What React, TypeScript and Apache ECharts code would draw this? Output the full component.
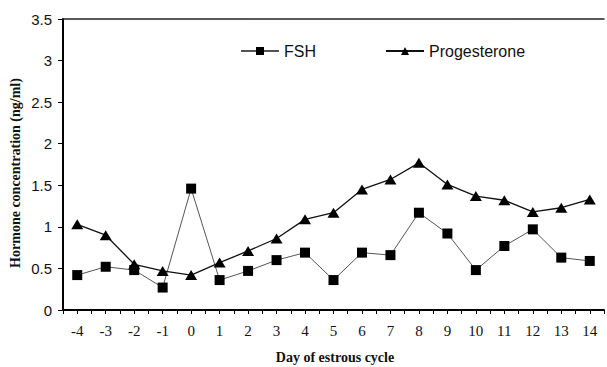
import React, { useEffect, useRef } from "react";
import * as echarts from "echarts";

const days = [-4, -3, -2, -1, 0, 1, 2, 3, 4, 5, 6, 7, 8, 9, 10, 11, 12, 13, 14];
const fsh = [0.42, 0.52, 0.48, 0.27, 1.46, 0.36, 0.47, 0.6, 0.69, 0.36, 0.69, 0.66, 1.17, 0.92, 0.48, 0.77, 0.97, 0.63, 0.59];
const progesterone = [1.03, 0.9, 0.55, 0.47, 0.42, 0.57, 0.71, 0.86, 1.09, 1.17, 1.45, 1.57, 1.77, 1.51, 1.37, 1.32, 1.18, 1.23, 1.33];
const xTitle = "Day of estrous cycle";
const yTitle = "Hormone concentration (ng/ml)";

export default function App() {
  const ref = useRef<HTMLDivElement>(null);
  useEffect(() => {
    document.body.style.margin = "0";
    const chart = echarts.init(ref.current!, null, { renderer: "svg" });
    const sans = "'Liberation Sans', Arial, sans-serif";
    const serif = "'Liberation Serif', 'Times New Roman', serif";
    chart.setOption({
      animation: false,
      backgroundColor: "#fff",
      grid: {
        left: 63,
        top: 19,
        width: 546,
        height: 291,
      },
      legend: {
        left: 240,
        top: 43,
        padding: 0,
        itemWidth: 38,
        itemHeight: 10,
        itemGap: 69,
        textStyle: { fontFamily: sans, fontSize: 16, color: "#111" },
        data: ["FSH", "Progesterone"],
      },
      xAxis: [
        {
          type: "value",
          min: -4.5,
          max: 14.5,
          interval: 0.5,
          splitLine: { show: false },
          axisLine: { onZero: false, lineStyle: { color: "#000", width: 2 } },
          axisTick: { length: 4, lineStyle: { color: "#000", width: 1 } },
          axisLabel: {
            margin: 13,
            fontFamily: serif,
            fontSize: 15,
            color: "#111",
            showMinLabel: true,
            showMaxLabel: true,
            formatter: (v: number) => (Number.isInteger(v) ? String(v) : ""),
          },
        },
        {
          type: "value",
          position: "top",
          min: -4.5,
          max: 14.5,
          interval: 0.5,
          splitLine: { show: false },
          axisLine: { onZero: false, lineStyle: { color: "#222", width: 1.5 } },
          axisTick: { show: false },
          axisLabel: { show: false },
        },
      ],
      yAxis: {
        type: "value",
        min: 0,
        max: 3.5,
        interval: 0.5,
        splitLine: { show: false },
        axisLine: { show: true, onZero: false, lineStyle: { color: "#000", width: 2 } },
        axisTick: { show: true, length: 5, lineStyle: { color: "#000", width: 1 } },
        axisLabel: { margin: 11, fontFamily: sans, fontSize: 15, color: "#111" },
      },
      graphic: [
        {
          type: "text",
          x: 335,
          y: 357,
          style: {
            text: xTitle,
            font: `bold 14px ${serif}`,
            fill: "#111",
            textAlign: "center",
            textVerticalAlign: "middle",
          },
        },
        {
          type: "text",
          x: 15,
          y: 173,
          rotation: Math.PI / 2,
          style: {
            text: yTitle,
            font: `bold 14px ${serif}`,
            fill: "#111",
            textAlign: "center",
            textVerticalAlign: "middle",
          },
        },
      ],
      series: [
        {
          name: "FSH",
          type: "line",
          xAxisIndex: 0,
          data: days.map((d, i) => [d, fsh[i]]),
          symbol: "rect",
          symbolSize: 10,
          itemStyle: { color: "#000" },
          lineStyle: { color: "#555", width: 1 },
        },
        {
          name: "Progesterone",
          type: "line",
          xAxisIndex: 0,
          data: days.map((d, i) => [d, progesterone[i]]),
          symbol: "triangle",
          symbolSize: [12, 10],
          itemStyle: { color: "#000" },
          lineStyle: { color: "#111", width: 1.3 },
        },
      ],
    });
    return () => chart.dispose();
  }, []);
  return <div ref={ref} style={{ width: 607, height: 367 }} />;
}
